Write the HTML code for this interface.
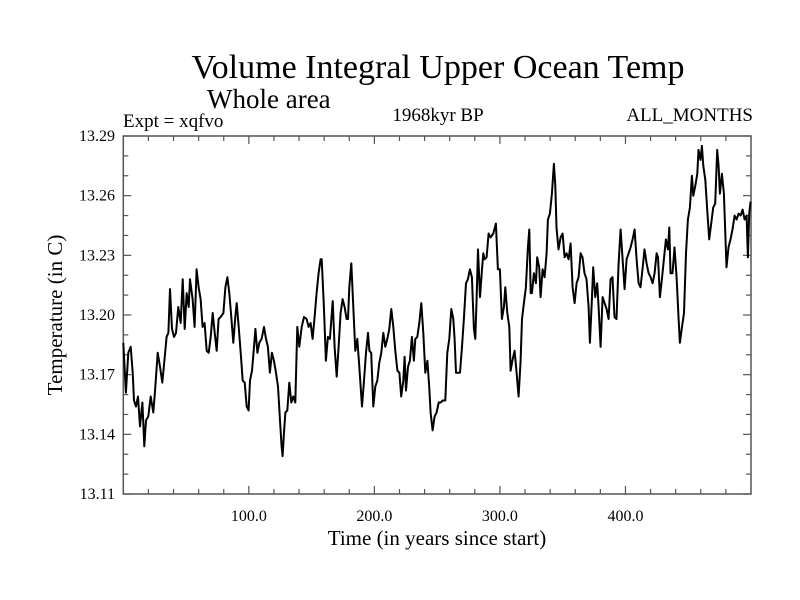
<!DOCTYPE html>
<html><head><meta charset="utf-8"><style>
html,body{margin:0;padding:0;background:#fff;}
svg{display:block;font-family:"Liberation Serif",serif;}
</style></head><body>
<svg id="chart" width="800" height="600" viewBox="0 0 800 600">
<rect x="0" y="0" width="800" height="600" fill="#fff"/>
<text x="438" y="78" font-size="34" text-anchor="middle">Volume Integral Upper Ocean Temp</text>
<text x="207" y="108" font-size="27">Whole area</text>
<text x="123" y="127" font-size="19">Expt = xqfvo</text>
<text x="438" y="121" font-size="19" text-anchor="middle">1968kyr BP</text>
<text x="753" y="121" font-size="19" text-anchor="end">ALL_MONTHS</text>
<text x="437" y="545" font-size="21" text-anchor="middle">Time (in years since start)</text>
<text x="0" y="0" font-size="21" text-anchor="middle" transform="translate(62,315) rotate(-90)">Temperature (in C)</text>
<g id="axes"></g>
<path id="line" fill="none" stroke="#000" stroke-width="2" stroke-linejoin="round"></path>
</svg>
<script>
const years = [0.0,2.1,4.0,5.9,7.5,8.5,10.1,11.7,13.3,15.2,16.7,18.1,19.9,21.8,23.9,25.2,27.4,29.2,31.1,32.7,34.5,35.9,37.2,38.8,40.4,42.0,43.8,45.7,47.3,48.9,50.5,52.1,53.1,55.2,56.8,58.4,60.0,61.6,63.2,64.8,66.4,68.0,69.6,71.2,72.8,74.4,75.9,77.5,79.7,81.3,82.9,84.4,86.0,87.6,89.2,90.3,91.9,93.5,95.1,96.7,98.3,99.8,100.9,102.5,104.1,105.2,106.8,108.3,110.2,112.1,113.7,115.2,116.8,118.4,120.0,121.6,123.2,124.8,126.1,126.9,128.0,129.1,130.6,132.2,133.8,135.4,137.0,138.6,140.2,142.1,143.9,146.0,147.6,149.2,150.8,152.4,154.0,155.6,157.2,
158.0,159.8,161.4,163.0,164.6,166.8,168.3,170.0,171.5,173.1,174.7,176.3,177.9,179.0,180.0,181.6,183.2,184.8,186.4,188.0,190.1,191.7,193.3,194.9,196.0,197.5,199.1,200.7,202.3,203.9,205.5,207.1,208.7,210.3,211.9,213.5,215.1,216.7,218.3,219.9,221.4,223.0,224.1,225.2,226.8,228.3,229.9,231.5,232.6,234.2,235.8,237.4,239.0,240.6,242.2,243.7,244.8,246.4,248.0,249.6,251.2,252.8,254.4,256.5,258.1,259.7,261.3,262.9,263.9,265.0,266.6,268.2,269.8,271.4,273.0,274.5,276.1,277.7,279.3,280.4,281.4,282.5,284.1,285.7,286.8,287.8,289.4,291.0,292.6,294.7,296.8,298.4,300.0,301.6,303.2,304.3,305.9,307.5,308.5,309.6,310.6,311.7,313.3,314.9,316.5,317.6,319.1,320.7,322.3,323.4,324.5,
325.5,327.1,328.7,329.7,331.3,332.4,334.0,335.6,337.2,338.2,339.8,341.4,343.0,344.1,345.1,346.7,348.3,349.9,351.5,353.1,354.7,356.3,357.9,359.5,361.1,362.7,364.3,365.8,367.4,369.0,370.6,371.7,373.3,374.3,375.9,377.5,378.6,380.2,381.8,383.4,385.0,386.6,388.2,389.7,391.3,392.9,394.5,396.1,397.7,399.3,400.9,402.5,404.1,405.7,407.3,408.9,410.5,412.0,413.6,415.2,416.8,418.4,420.0,421.6,423.2,424.8,425.9,427.4,429.0,430.6,432.2,433.8,434.9,435.9,437.5,439.1,440.7,442.3,443.4,445.0,446.6,448.2,449.7,451.3,452.9,454.0,455.6,457.2,458.2,459.8,460.9,462.0,463.6,465.1,466.7,468.3,469.9,471.5,473.1,474.2,475.2,476.8,478.4,480.5,482.1,483.7,485.3,486.9,488.5,490.1,491.7,493.3,494.9,496.5,497.5,498.6,499.7];
const temps = [13.186,13.161,13.181,13.184,13.171,13.157,13.154,13.159,13.144,13.156,13.134,13.147,13.149,13.159,13.151,13.161,13.181,13.174,13.166,13.177,13.189,13.191,13.213,13.193,13.189,13.191,13.204,13.196,13.218,13.193,13.211,13.204,13.218,13.208,13.194,13.223,13.214,13.208,13.194,13.196,13.182,13.181,13.189,13.201,13.191,13.182,13.198,13.199,13.201,13.214,13.219,13.211,13.199,13.186,13.199,13.206,13.194,13.181,13.167,13.166,13.154,13.152,13.167,13.172,13.184,13.193,13.181,13.186,13.188,13.194,13.188,13.184,13.171,13.181,13.177,13.171,13.164,13.147,13.134,13.129,13.141,13.151,13.152,13.166,13.156,13.159,13.156,13.194,13.184,13.194,13.199,13.198,13.194,13.196,13.188,13.199,13.211,13.221,13.228,
13.228,13.204,13.177,13.189,13.188,13.207,13.184,13.169,13.184,13.201,13.208,13.204,13.198,13.198,13.214,13.226,13.204,13.182,13.188,13.174,13.154,13.167,13.181,13.191,13.182,13.181,13.154,13.164,13.167,13.176,13.181,13.191,13.184,13.188,13.193,13.203,13.194,13.182,13.172,13.171,13.159,13.167,13.179,13.162,13.174,13.177,13.189,13.177,13.188,13.189,13.196,13.206,13.191,13.171,13.177,13.164,13.151,13.142,13.149,13.151,13.156,13.156,13.157,13.157,13.181,13.188,13.203,13.198,13.188,13.171,13.171,13.171,13.184,13.199,13.216,13.218,13.223,13.219,13.193,13.188,13.208,13.233,13.209,13.223,13.231,13.228,13.229,13.241,13.239,13.241,13.246,13.223,13.223,13.198,13.204,13.214,13.201,13.194,13.172,13.176,13.179,13.182,13.171,13.159,13.177,13.198,13.206,13.214,13.234,13.243,13.211,
13.211,13.221,13.216,13.229,13.224,13.209,13.223,13.219,13.231,13.248,13.251,13.261,13.276,13.265,13.244,13.233,13.239,13.241,13.229,13.231,13.228,13.236,13.214,13.206,13.216,13.219,13.231,13.229,13.221,13.218,13.204,13.186,13.208,13.224,13.209,13.216,13.204,13.184,13.209,13.206,13.203,13.198,13.218,13.219,13.199,13.198,13.226,13.243,13.228,13.213,13.228,13.231,13.234,13.238,13.243,13.228,13.216,13.214,13.223,13.233,13.226,13.221,13.219,13.216,13.221,13.231,13.229,13.209,13.218,13.228,13.238,13.233,13.244,13.221,13.221,13.234,13.219,13.198,13.186,13.194,13.201,13.231,13.248,13.254,13.270,13.260,13.265,13.271,13.283,13.278,13.285,13.275,13.268,13.253,13.238,13.246,13.254,13.256,13.283,13.275,13.261,13.271,13.261,13.224,13.234,13.238,13.243,13.250,13.248,13.251,13.250,13.253,13.248,13.250,13.229,13.251,13.257];
const xTickLabels = ["100.0","200.0","300.0","400.0"];
const xTickValues = [100,200,300,400];
const yTickLabels = ["13.11","13.14","13.17","13.20","13.23","13.26","13.29"];
const yTickValues = [13.11,13.14,13.17,13.20,13.23,13.26,13.29];

const L=123.3, R=751, T=136, B=494;
const xDom=[0,500], yDom=[13.11,13.29];
function xs(v){return L+(v-xDom[0])/(xDom[1]-xDom[0])*(R-L);}
function ys(v){return B-(v-yDom[0])/(yDom[1]-yDom[0])*(B-T);}
const NS="http://www.w3.org/2000/svg";
const ax=document.getElementById('axes');
function ln(x1,y1,x2,y2,name){
  const l=document.createElementNS(NS,'line');
  l.setAttribute('x1',x1);l.setAttribute('y1',y1);l.setAttribute('x2',x2);l.setAttribute('y2',y2);
  l.setAttribute('stroke','#555');l.setAttribute('stroke-width','1.2');
  
  
  ax.appendChild(l);
}
const fr=document.createElementNS(NS,'rect');
fr.setAttribute('x',L);fr.setAttribute('y',T);fr.setAttribute('width',R-L);fr.setAttribute('height',B-T);
fr.setAttribute('fill','none');fr.setAttribute('stroke','#555');fr.setAttribute('stroke-width','1.5');


ax.appendChild(fr);
for(let v=20;v<500;v+=20){
  const major=v%100===0, len=major?8:5, x=xs(v);
  ln(x,B,x,B-len,'x-tick');
  ln(x,T,x,T+len,'x-tick-top');
}
for(let i=0;i<=18;i++){
  const v=13.11+i*0.01, major=i%3===0, len=major?8:5, y=ys(v);
  ln(L,y,L+len,y,'y-tick');
  ln(R,y,R-len,y,'y-tick-right');
}
xTickValues.forEach((v,i)=>{
  const t=document.createElementNS(NS,'text');
  t.setAttribute('x',xs(v));t.setAttribute('y',521);t.setAttribute('font-size','16');t.setAttribute('text-anchor','middle');
  t.textContent=xTickLabels[i];
  
  
  ax.appendChild(t);
});
yTickValues.forEach((v,i)=>{
  const t=document.createElementNS(NS,'text');
  t.setAttribute('x',115);t.setAttribute('y',ys(v)+5);t.setAttribute('font-size','16');t.setAttribute('text-anchor','end');
  t.textContent=yTickLabels[i];
  
  
  ax.appendChild(t);
});
let d='';
years.forEach((yr,i)=>{d+=(i?'L':'M')+xs(yr).toFixed(1)+','+ys(temps[i]).toFixed(1);});
document.getElementById('line').setAttribute('d',d);
</script>
</body></html>
